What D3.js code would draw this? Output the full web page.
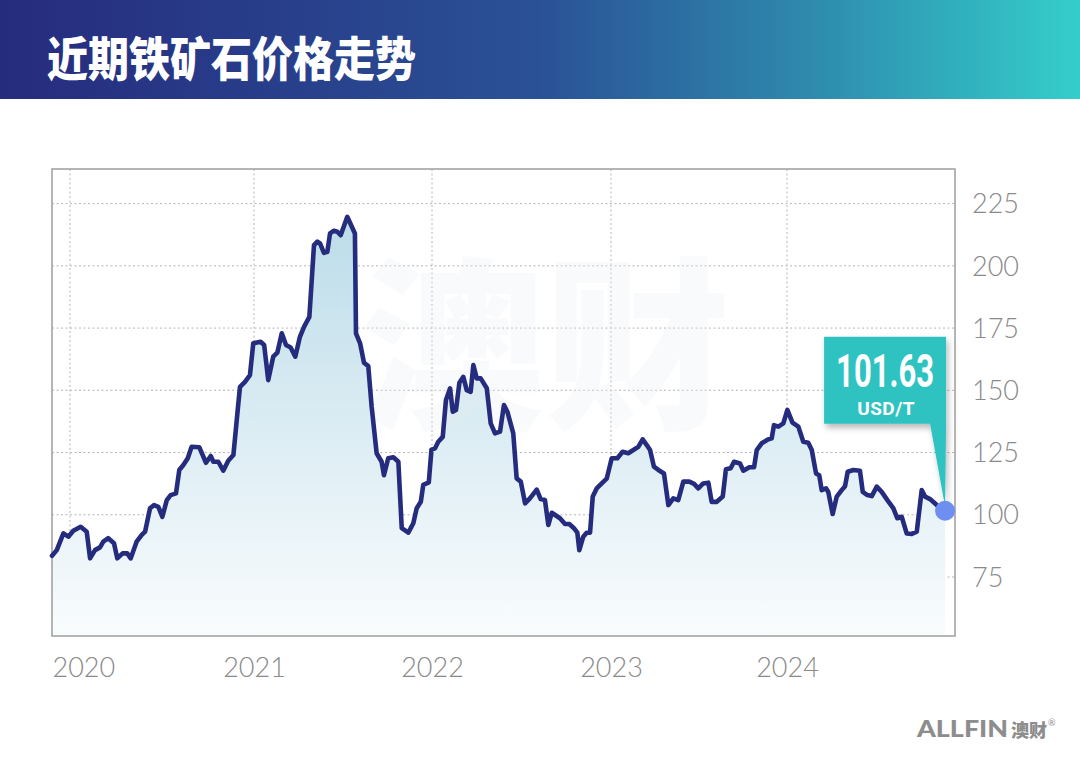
<!DOCTYPE html>
<html><head><meta charset="utf-8">
<script src="https://cdn.jsdelivr.net/npm/d3@7"></script>
<style>html,body{margin:0;padding:0;background:#fff;}svg{display:block;}</style>
</head><body>
<svg id="chart" width="1080" height="767"></svg>
<script>
// ---- data (decimal year, USD/t) ----
const title = "近期铁矿石价格走势";
const yearTicks = [2020, 2021, 2022, 2023, 2024];
const priceTicks = [75, 100, 125, 150, 175, 200, 225];
const lastLabel = "101.63";
const unitLabel = "USD/T";

const dates2020 = [2019.902,2019.928,2019.964,2019.991,2020.018,2020.058,2020.091,2020.109,2020.136,2020.163,2020.181,2020.208,2020.239,2020.257,2020.286,2020.311,2020.330,2020.362,2020.390,2020.408,2020.435,2020.457,2020.480,2020.502,2020.526,2020.547,2020.576,2020.594,2020.616,2020.640,2020.661,2020.703,2020.739,2020.765,2020.779,2020.806,2020.833,2020.860,2020.888,2020.915,2020.924,2020.951,2020.978,2020.996];
const prices2020 = [83.5,85.8,92.5,91.2,93.6,95.2,93.2,82.5,85.8,86.9,89.2,90.6,88.6,82.5,84.5,84.5,82.5,89.2,91.9,93.2,102.6,103.9,103.2,99.2,105.9,107.9,108.6,118,120,122.7,127.3,127.1,120.9,123.6,121.3,121.3,117.7,121.7,124,144.8,151.4,153.4,156.1,168.9];

const dates2021 = [2021.037,2021.057,2021.080,2021.108,2021.131,2021.156,2021.180,2021.206,2021.232,2021.258,2021.281,2021.311,2021.337,2021.356,2021.371,2021.393,2021.412,2021.427,2021.449,2021.468,2021.487,2021.524,2021.567,2021.573,2021.596,2021.618,2021.642,2021.661,2021.689,2021.717,2021.730,2021.754,2021.783,2021.811,2021.830,2021.867,2021.895,2021.914,2021.937,2021.951,2021.982,2021.997];
const prices2021 = [169.5,168.2,154.1,163.5,165.1,172.9,168.2,167.2,163.5,171.5,175.5,179.5,208.3,209.7,209,205.2,205.6,213,214.1,213.7,212.3,219.7,213,172.9,168.9,161.1,159.7,143.4,124.7,121.3,115.9,122.7,123.1,121.3,94.6,92.8,96.6,102.6,105.2,112,113,126.2];

const dates2022 = [2022.017,2022.035,2022.060,2022.078,2022.101,2022.116,2022.134,2022.153,2022.175,2022.194,2022.216,2022.231,2022.250,2022.272,2022.306,2022.328,2022.352,2022.380,2022.402,2022.421,2022.454,2022.473,2022.496,2022.520,2022.547,2022.585,2022.607,2022.631,2022.650,2022.669,2022.715,2022.743,2022.767,2022.793,2022.812,2022.823,2022.845,2022.864,2022.883,2022.898,2022.920,2022.954,2022.976];
const prices2022 = [126.7,129.3,131.3,146.1,150.8,141.4,142.1,153,155.4,150.1,149.4,160.1,154.8,154.8,150.8,136.7,132.7,133.4,144.1,141.4,132.7,114.6,113.3,104.6,106.6,110.1,106.3,105.9,95.9,100.8,98.6,96.3,96.3,94.6,92.8,85.8,91.2,92.8,92.8,107.3,110.6,113,114.5];

const dates2023 = [2023.004,2023.036,2023.066,2023.098,2023.127,2023.155,2023.180,2023.203,2023.222,2023.244,2023.269,2023.301,2023.326,2023.354,2023.382,2023.411,2023.445,2023.472,2023.496,2023.524,2023.553,2023.572,2023.601,2023.635,2023.653,2023.680,2023.699,2023.733,2023.752,2023.786,2023.813,2023.828,2023.856,2023.894,2023.913,2023.926,2023.951,2023.979];
const prices2023 = [122.7,122.7,125.3,124.7,126,127.3,130.3,128,126,119.3,118,116.6,103.9,106.6,105.9,113.3,113.3,112.4,110.6,112.6,112.9,105.2,105.2,107.3,118.3,118.7,121.3,120.6,117.7,119.1,119.1,126,128.7,130.3,130.7,136,135.4,136.7];

const dates2024 = [2024.002,2024.031,2024.064,2024.092,2024.120,2024.140,2024.164,2024.182,2024.196,2024.220,2024.233,2024.258,2024.281,2024.309,2024.328,2024.343,2024.375,2024.412,2024.428,2024.454,2024.479,2024.507,2024.535,2024.567,2024.601,2024.623,2024.648,2024.676,2024.705,2024.733,2024.761,2024.780,2024.808,2024.846,2024.893];
const prices2024 = [142.1,137,135.4,129.3,128.9,126,116.6,115.9,109.9,110.6,109.2,100.3,107.3,109.9,111.5,117.3,118,117.7,109.2,107.9,107.5,111.3,109.2,105.9,102.6,98.6,99.2,92.5,92.3,93.2,109.9,107.3,106.3,103.9,101.63];

const dates = [].concat(dates2020, dates2021, dates2022, dates2023, dates2024);
const prices = [].concat(prices2020, prices2021, prices2022, prices2023, prices2024);
const series = dates.map((d, i) => ({t: d, v: prices[i]}));

// ---- layout ----
const W = 1080, H = 767;
const plot = {left: 52, right: 955, top: 169, bottom: 636};
const svg = d3.select("#chart");
const defs = svg.append("defs");

const x = d3.scaleLinear()
  .domain([2019.902, 2020, 2021, 2022, 2023, 2024, 2024.949])
  .range([52, 70, 254, 432, 611, 787, 955]);
const y = d3.scaleLinear().domain([51.3, 238.9]).range([plot.bottom, plot.top]);

// header
const hg = defs.append("linearGradient").attr("id", "hdr").attr("x1", 0).attr("x2", 1).attr("y1", 0).attr("y2", 0);
[[0, "#262b7e"], [0.5, "#2a5196"], [0.75, "#2e8aad"], [1, "#34cecb"]].forEach(s => hg.append("stop").attr("offset", s[0]).attr("stop-color", s[1]));
svg.append("rect").attr("x", 0).attr("y", 0).attr("width", W).attr("height", 99).attr("fill", "url(#hdr)");
svg.append("text").text(title)
  .attr("transform", "translate(47,56) scale(1,1.14)")
  .attr("dominant-baseline", "central")
  .attr("font-family", "'Noto Sans CJK SC'")
  .attr("font-weight", 900).attr("font-size", 41)
  .attr("fill", "#ffffff");

// area gradient
const ag = defs.append("linearGradient").attr("id", "areaG").attr("gradientUnits", "userSpaceOnUse")
  .attr("x1", 0).attr("x2", 0).attr("y1", 200).attr("y2", plot.bottom);
[[0, "#b9dbe8"], [0.45, "#d7eaf2"], [1, "#f9fcfd"]].forEach(s => ag.append("stop").attr("offset", s[0]).attr("stop-color", s[1]));

// grid
const grid = svg.append("g");
grid.selectAll("line.h").data(priceTicks).join("line")
  .attr("x1", plot.left).attr("x2", plot.right)
  .attr("y1", d => y(d)).attr("y2", d => y(d))
  .attr("stroke", "#b5b5b5").attr("stroke-width", 1).attr("stroke-dasharray", "2,2.5");
grid.selectAll("line.v").data(yearTicks).join("line")
  .attr("x1", d => x(d)).attr("x2", d => x(d))
  .attr("y1", plot.top).attr("y2", plot.bottom)
  .attr("stroke", "#b5b5b5").attr("stroke-width", 1).attr("stroke-dasharray", "2,2.5");

// area
const area = d3.area().x(d => x(d.t)).y0(plot.bottom).y1(d => y(d.v));
svg.append("path").datum(series).attr("d", area).attr("fill", "url(#areaG)");

// watermark
svg.append("text").text("澳财").attr("x", 545).attr("y", 415).attr("text-anchor", "middle")
  .attr("font-family", "'Noto Sans CJK SC'").attr("font-weight", 900).attr("font-size", 185)
  .attr("fill", "#e9eff2").attr("opacity", 0.3);

// border
svg.append("rect").attr("x", plot.left).attr("y", plot.top)
  .attr("width", plot.right - plot.left).attr("height", plot.bottom - plot.top)
  .attr("fill", "none").attr("stroke", "#a3a3a3").attr("stroke-width", 1.6);

// line
const line = d3.line().x(d => x(d.t)).y(d => y(d.v));
svg.append("path").datum(series).attr("d", line)
  .attr("fill", "none").attr("stroke", "#252c7e").attr("stroke-width", 4.6)
  .attr("stroke-linejoin", "round").attr("stroke-linecap", "round");

// axes
const yAxis = d3.axisRight(y).tickValues(priceTicks).tickSize(0).tickPadding(0);
const gy = svg.append("g").attr("transform", `translate(${plot.right + 17},0)`).call(yAxis);
gy.select(".domain").remove();
gy.selectAll("text").attr("font-family", "Lato").attr("font-weight", 300).attr("font-size", 27)
  .attr("fill", "#8a8a8a").attr("dy", "0.34em");

const xAxis = d3.axisBottom(x).tickValues(yearTicks).tickFormat(d3.format("d")).tickSize(0).tickPadding(0);
const gx = svg.append("g").attr("transform", `translate(0,${plot.bottom + 32})`).call(xAxis);
gx.select(".domain").remove();
gx.selectAll("text").attr("font-family", "Lato").attr("font-weight", 300).attr("font-size", 27)
  .attr("fill", "#8a8a8a").attr("dy", "0.34em")
  .attr("text-anchor", d => x(d) - 32 < plot.left ? "start" : "middle")
  .attr("dx", d => x(d) - 32 < plot.left ? (plot.left - x(d)) : 0);

// callout
const last = series[series.length - 1];
const px = x(last.t), py = y(last.v);
const box = {x: px - 121, y: py - 174, w: 122, h: 87};
const sh = defs.append("filter").attr("id", "sh").attr("x", "-20%").attr("y", "-20%").attr("width", "150%").attr("height", "160%");
sh.append("feDropShadow").attr("dx", 2).attr("dy", 4).attr("stdDeviation", 3).attr("flood-color", "#000").attr("flood-opacity", 0.28);
const cg = svg.append("g");
cg.append("path")
  .attr("d", `M${box.x},${box.y}H${box.x + box.w}V${box.y + box.h}L${px},${py - 4}L${box.x + box.w - 16},${box.y + box.h}H${box.x}Z`)
  .attr("fill", "#2ec3c1").attr("filter", "url(#sh)");
cg.append("text").text(lastLabel)
  .attr("transform", `translate(${box.x + box.w / 2},${box.y + 50}) scale(0.66,1)`)
  .attr("text-anchor", "middle").attr("font-family", "Roboto").attr("font-weight", 700)
  .attr("font-size", 47).attr("fill", "#ffffff");
cg.append("text").text(unitLabel).attr("x", box.x + box.w / 2 + 1).attr("y", box.y + 78)
  .attr("text-anchor", "middle").attr("font-family", "Roboto").attr("font-weight", 700)
  .attr("font-size", 19).attr("letter-spacing", 0.5).attr("fill", "#ffffff");
svg.append("circle").attr("cx", px).attr("cy", py).attr("r", 10).attr("fill", "#6e8ef0");

// logo
const lg = svg.append("g");
lg.append("text").text("ALLFIN").attr("x", 917).attr("y", 737)
  .attr("font-family", "Lato").attr("font-weight", 900).attr("font-size", 22)
  .attr("textLength", 91).attr("lengthAdjust", "spacingAndGlyphs").attr("fill", "#8d8d8d");
lg.append("text").text("澳财").attr("x", 1011).attr("y", 737)
  .attr("font-family", "'Noto Sans CJK SC'").attr("font-weight", 900).attr("font-size", 18)
  .attr("fill", "#8d8d8d");
lg.append("text").text("®").attr("x", 1048).attr("y", 726)
  .attr("font-family", "Lato").attr("font-size", 9).attr("fill", "#8d8d8d");
</script>
</body></html>
